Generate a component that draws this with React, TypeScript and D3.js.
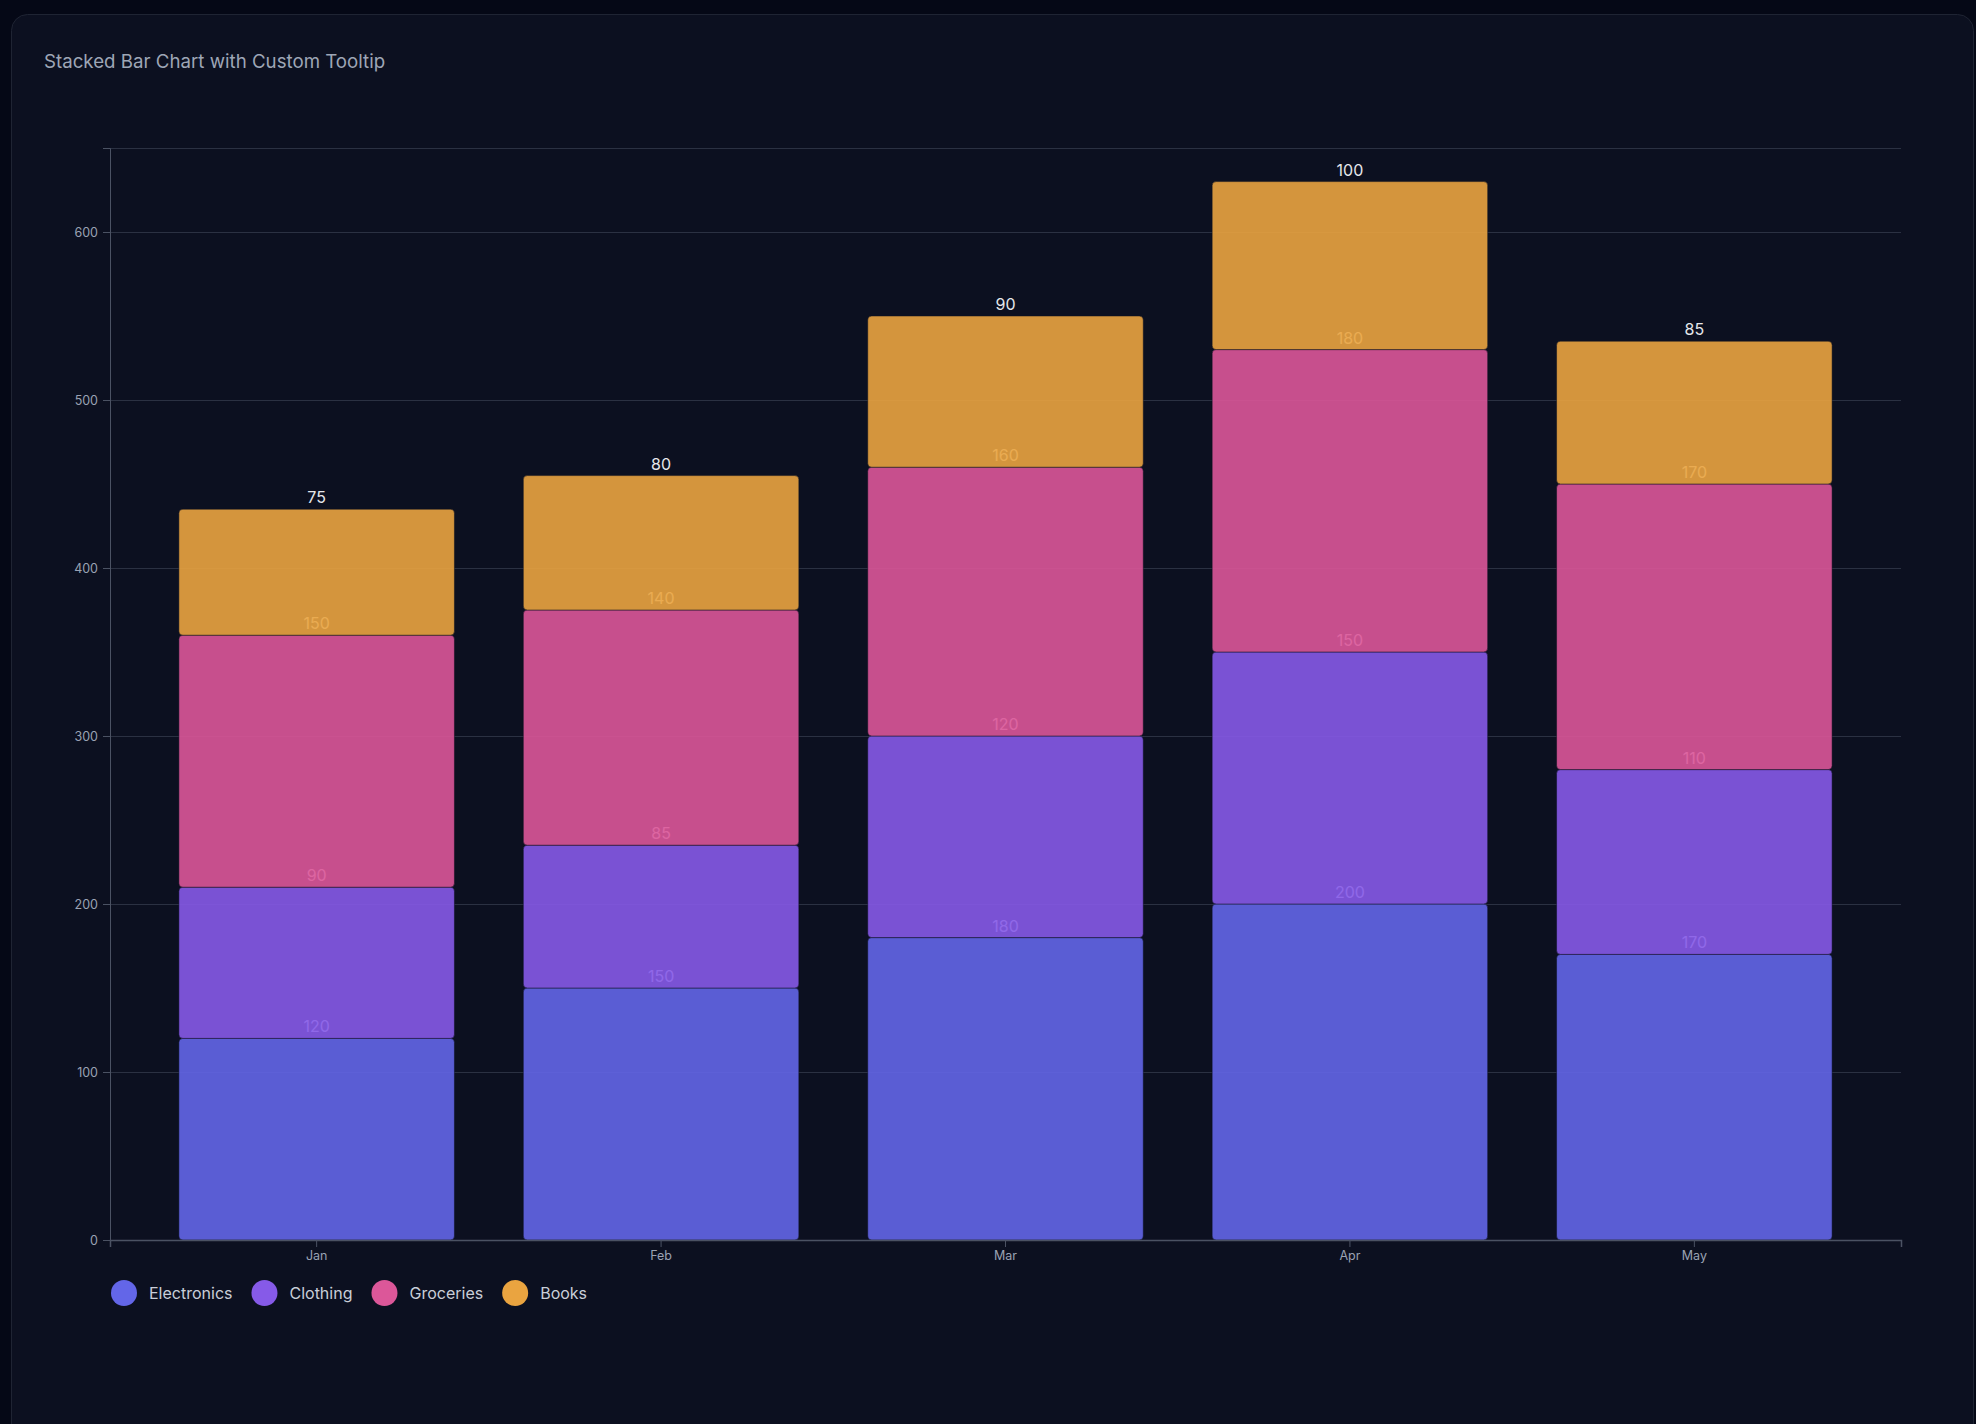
import React, { useEffect, useRef } from "react";
import * as d3 from "d3";

const months = ["Jan", "Feb", "Mar", "Apr", "May"];
const electronics = [120, 150, 180, 200, 170];
const clothing = [90, 85, 120, 150, 110];
const groceries = [150, 140, 160, 180, 170];
const books = [75, 80, 90, 100, 85];
const seriesNames = ["Electronics", "Clothing", "Groceries", "Books"];
const seriesColors = ["#6366e8", "#865ae8", "#dc5799", "#eaa440"];
const yTicks = [0, 100, 200, 300, 400, 500, 600];
const yMax = 650;
const title = "Stacked Bar Chart with Custom Tooltip";

const W = 1976;
const H = 1424;
const FONT = "Inter, 'Noto Sans', sans-serif";

export default function App() {
  const ref = useRef<SVGSVGElement | null>(null);

  useEffect(() => {
    document.body.style.margin = "0";
    document.body.style.background = "#050816";
    const svg = d3.select(ref.current);
    svg.selectAll("*").remove();

    const left = 110, right = 1901, top = 148, bottom = 1240;

    svg.append("rect").attr("width", W).attr("height", H).attr("fill", "#050816");
    svg.append("rect")
      .attr("x", 11.5).attr("y", 14.5).attr("width", 1962).attr("height", 1460)
      .attr("rx", 16).attr("fill", "#0c1020").attr("stroke", "#1f2433").attr("stroke-width", 1);

    svg.append("text").attr("x", 44).attr("y", 68)
      .attr("font-family", FONT).attr("font-size", 18.7).attr("fill", "#9ea6b6")
      .text(title);

    const rows = months.map((m, i) => ({
      month: m,
      Electronics: electronics[i],
      Clothing: clothing[i],
      Groceries: groceries[i],
      Books: books[i],
    }));
    const stacked = d3.stack<any>().keys(seriesNames)(rows);

    const x = d3.scaleBand().domain(months).range([left, right]).padding(0.2);
    const y = d3.scaleLinear().domain([0, yMax]).range([bottom, top]);
    const color = d3.scaleOrdinal<string, string>().domain(seriesNames).range(seriesColors);

    // grid
    const grid = svg.append("g");
    grid.selectAll("line").data([...yTicks, yMax]).join("line")
      .attr("x1", left).attr("x2", right)
      .attr("y1", (d) => y(d) + 0.5).attr("y2", (d) => y(d) + 0.5)
      .attr("stroke", "#2b3142").attr("stroke-width", 1);

    // bars
    const plot = svg.append("g");
    stacked.forEach((layer) => {
      const g = plot.append("g");
      g.selectAll("rect").data(layer).join("rect")
        .attr("x", (d: any) => x(d.data.month)!)
        .attr("width", x.bandwidth())
        .attr("y", (d: any) => y(d[1]))
        .attr("height", (d: any) => y(d[0]) - y(d[1]))
        .attr("rx", 4)
        .attr("fill", color(layer.key))
        .attr("fill-opacity", 0.9)
        .attr("stroke", "#0c1020")
        .attr("stroke-opacity", 0.5)
        .attr("stroke-width", 1);
      g.selectAll("text").data(layer).join("text")
        .attr("x", (d: any) => x(d.data.month)! + x.bandwidth() / 2)
        .attr("y", (d: any) => y(d[1]) - 6)
        .attr("text-anchor", "middle")
        .attr("font-family", FONT).attr("font-size", 16)
        .attr("fill", "#e5e7eb")
        .text((d: any) => d[1] - d[0]);
    });

    // axes
    const yAxis = svg.append("g").attr("transform", `translate(${left},0)`)
      .call(d3.axisLeft(y).tickValues(yTicks).tickSize(7).tickPadding(5));
    const xAxis = svg.append("g").attr("transform", `translate(0,${bottom})`)
      .call(d3.axisBottom(x).tickSize(7).tickPadding(4));
    [yAxis, xAxis].forEach((a) => {
      a.selectAll("path,line").attr("stroke", "#4b5263");
      a.selectAll("text").attr("fill", "#9aa2b3").attr("font-family", FONT).attr("font-size", 12.5);
    });
    xAxis.select("path").attr("stroke-width", 1.5);

    // legend
    const legend = svg.append("g").attr("transform", `translate(${left},1293)`);
    let cx = 1;
    seriesNames.forEach((name) => {
      const item = legend.append("g").attr("transform", `translate(${cx},0)`);
      item.append("circle").attr("cx", 13).attr("cy", 0).attr("r", 13).attr("fill", color(name));
      const t = item.append("text").attr("x", 38).attr("y", 0).attr("dy", "0.35em")
        .attr("font-family", FONT).attr("font-size", 16).attr("fill", "#c9ced8")
        .text(name);
      const w = (t.node() as SVGTextElement).getComputedTextLength();
      cx += 38 + w + 19;
    });
  }, []);

  return (
    <svg ref={ref} width={W} height={H} style={{ position: "absolute", left: 0, top: 0, display: "block" }} />
  );
}
